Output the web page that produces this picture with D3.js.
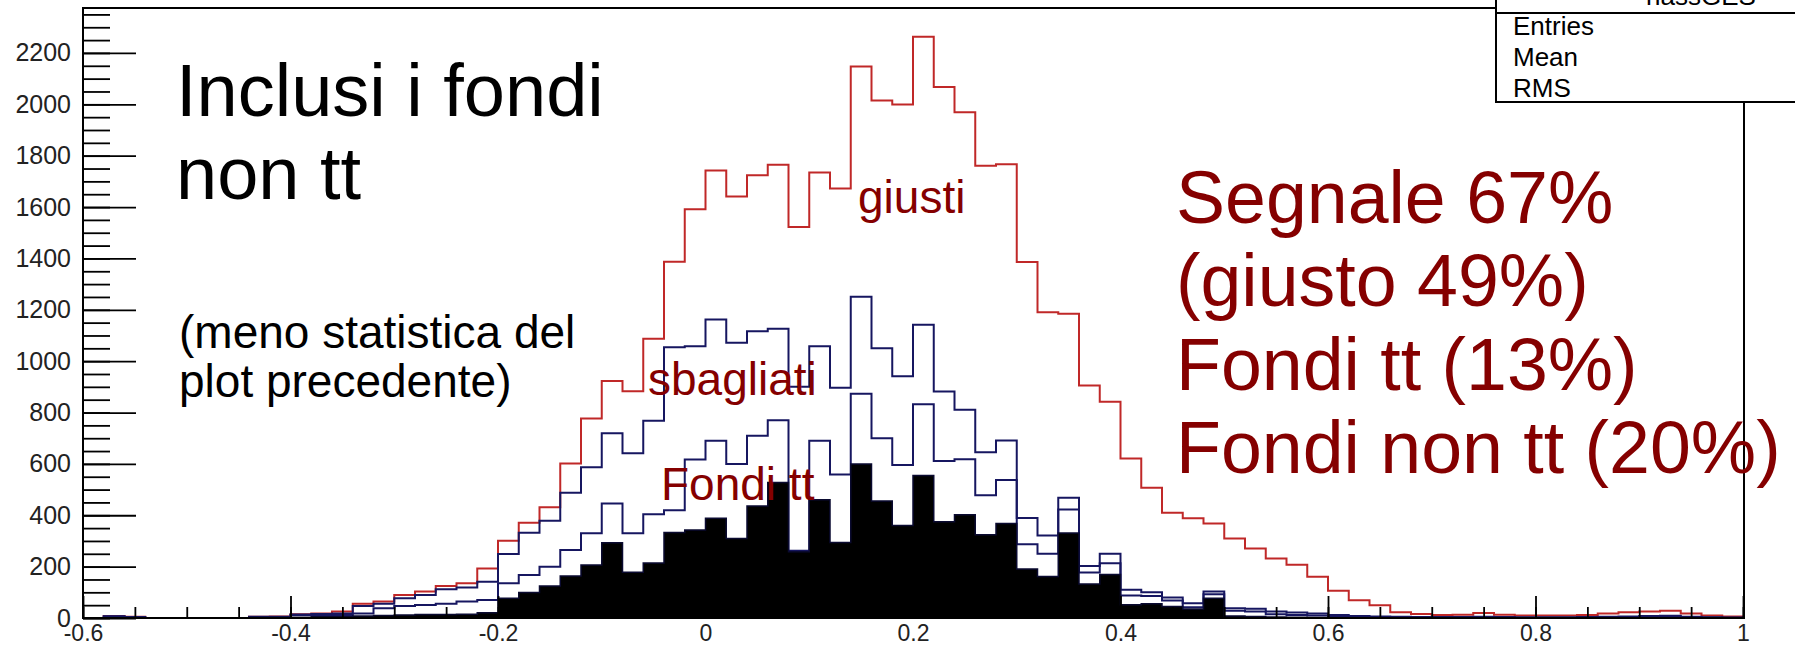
<!DOCTYPE html>
<html>
<head>
<meta charset="utf-8">
<script src="https://cdn.jsdelivr.net/npm/d3@7"></script>
<style>
  body { margin: 0; background: #fff; overflow: hidden; }
  text { font-family: "Liberation Sans", Arial, sans-serif; }
</style>
</head>
<body>
<svg id="chart" width="1795" height="652"></svg>
<script>
// histogram: 80 bins of width 0.02 from -0.6 to 1 (stacked contributions)
const binEdges = d3.range(81).map(i => -0.6 + i * 0.02);

const nonTT = [
  0,0,0,0,0,0,0,0,2,2,
  3,5,5,8,10,12,14,14,15,20,
  77,99,125,164,206,293,178,214,333,343,
  388,310,436,528,258,460,294,600,456,360,
  555,375,402,324,368,191,162,331,132,169,
  52,55,45,35,77,8,6,4,3,2,
  1,0,0,0,0,0,0,0,0,0,
  0,0,0,0,0,0,0,0,0,0];

const fondiTT = [
  0,6,3,0,0,0,0,0,2,2,
  9,7,7,10,28,35,37,41,49,50,
  58,68,75,101,124,153,152,190,87,274,
  302,290,274,242,4,230,265,273,244,236,
  277,236,216,154,169,96,88,91,45,44,
  36,31,23,7,15,20,19,11,9,8,
  5,4,3,2,2,2,2,3,2,1,
  1,1,2,3,3,6,6,3,2,1];

const sbagliati = [
  0,1,1,0,0,0,0,0,1,1,
  2,4,6,29,17,30,39,57,55,71,
  114,165,179,223,257,273,311,364,634,441,
  472,472,406,356,638,368,337,378,350,345,
  310,271,193,167,154,102,71,46,25,37,
  22,14,12,15,11,10,11,10,9,8,
  6,4,3,3,2,2,2,2,2,2,
  2,2,2,2,3,2,3,2,1,1];

const giusti = [
  0,1,1,0,0,0,0,0,0,1,
  1,2,7,8,9,13,13,13,16,52,
  52,39,52,114,190,204,242,319,333,533,
  580,569,608,639,622,677,776,896,965,1058,
  1121,1185,1158,1116,1076,997,869,717,703,592,
  511,407,330,331,265,272,235,207,186,143,
  94,61,44,17,12,8,9,14,9,7,
  7,7,8,13,16,17,19,13,7,4];

const xTicks = [-0.6, -0.4, -0.2, 0, 0.2, 0.4, 0.6, 0.8, 1];
const xTickLabels = ["-0.6", "-0.4", "-0.2", "0", "0.2", "0.4", "0.6", "0.8", "1"];
const yTicks = [0, 200, 400, 600, 800, 1000, 1200, 1400, 1600, 1800, 2000, 2200];

const leftNotes = ["Inclusi i fondi", "non tt"];
const leftSmallNotes = ["(meno statistica del", "plot precedente)"];
const rightNotes = ["Segnale 67%", "(giusto 49%)", "Fondi tt (13%)", "Fondi non tt (20%)"];
const statsRows = ["Entries", "Mean", "RMS"];

const svg = d3.select("#chart");
svg.append("rect").attr("width", 1795).attr("height", 652).attr("fill", "#fff");

let x = d3.scaleLinear().domain([-0.6, 1]).range([83, 1743]);
let y = d3.scaleLinear().domain([0, 2375]).range([618, 8]);

let rows = d3.range(80).map(function(i) {
  return {lo: binEdges[i], hi: binEdges[i + 1],
    nonTT: nonTT[i], fondiTT: fondiTT[i], sbagliati: sbagliati[i], giusti: giusti[i]};
});
let layers = d3.stack().keys(["nonTT", "fondiTT", "sbagliati", "giusti"])(rows);

function stepPoints(layer) {
  let pts = [[x(-0.6), y(0)]];
  layer.forEach(function(d) {
    pts.push([x(d.data.lo), y(d[1])]);
    pts.push([x(d.data.hi), y(d[1])]);
  });
  pts.push([x(1), y(0)]);
  return pts;
}

let line = d3.line();
let area = d3.area().x(p => p[0]).y0(y(0)).y1(p => p[1]);

let histG = svg.append("g");
// drawn from the top of the stack down
histG.append("path").attr("d", line(stepPoints(layers[3])))
  .attr("fill", "none").attr("stroke", "#c02828").attr("stroke-width", 2);
histG.append("path").attr("d", line(stepPoints(layers[2])))
  .attr("fill", "none").attr("stroke", "#161660").attr("stroke-width", 2);
histG.append("path").attr("d", line(stepPoints(layers[1])))
  .attr("fill", "none").attr("stroke", "#161660").attr("stroke-width", 2);
histG.append("path").attr("d", area(stepPoints(layers[0])))
  .attr("fill", "#000").attr("stroke", "#0a0a30").attr("stroke-width", 1.5);

// axes, ROOT style: ticks pointing inside
let yMinor = d3.range(0, 2351, 50);
let xMinor = d3.range(33).map(i => -0.6 + i * 0.05);

let yAxisMinor = svg.append("g").attr("transform", "translate(83,0)")
  .call(d3.axisLeft(y).tickValues(yMinor).tickSizeInner(-27).tickSizeOuter(0).tickFormat(""));
let yAxis = svg.append("g").attr("transform", "translate(83,0)")
  .call(d3.axisLeft(y).tickValues(yTicks).tickSizeInner(-53).tickSizeOuter(0).tickPadding(12)
    .tickFormat(d => String(d)));
let xAxisMinor = svg.append("g").attr("transform", "translate(0,618)")
  .call(d3.axisBottom(x).tickValues(xMinor).tickSizeInner(-11).tickSizeOuter(0).tickFormat(""));
let xAxis = svg.append("g").attr("transform", "translate(0,618)")
  .call(d3.axisBottom(x).tickValues(xTicks).tickSizeInner(-22).tickSizeOuter(0).tickPadding(7)
    .tickFormat((d, i) => xTickLabels[i]));

[yAxisMinor, yAxis, xAxisMinor, xAxis].forEach(function(g) {
  g.select(".domain").remove();
  g.selectAll(".tick line").attr("stroke", "#000").attr("stroke-width", 1.8);
  g.selectAll(".tick text").attr("fill", "#222")
    .style("font-family", "\"Liberation Sans\", Arial, sans-serif");
});
yAxis.selectAll(".tick text").style("font-size", "25px");
xAxis.selectAll(".tick text").style("font-size", "23px");

// frame
svg.append("line").attr("x1", 83).attr("x2", 83).attr("y1", 8).attr("y2", 619)
  .attr("stroke", "#000").attr("stroke-width", 2);
svg.append("line").attr("x1", 82).attr("x2", 1745).attr("y1", 618).attr("y2", 618)
  .attr("stroke", "#000").attr("stroke-width", 2);
svg.append("line").attr("x1", 82).attr("x2", 1745).attr("y1", 8).attr("y2", 8)
  .attr("stroke", "#000").attr("stroke-width", 2);
svg.append("line").attr("x1", 1744).attr("x2", 1744).attr("y1", 8).attr("y2", 619)
  .attr("stroke", "#000").attr("stroke-width", 2);

// stats box (cut by the top edge)
svg.append("rect").attr("x", 1496).attr("y", -20).attr("width", 330).attr("height", 122)
  .attr("fill", "#fff").attr("stroke", "#000").attr("stroke-width", 2);
svg.append("line").attr("x1", 1496).attr("x2", 1800).attr("y1", 13).attr("y2", 13)
  .attr("stroke", "#000").attr("stroke-width", 2);
svg.append("text").attr("x", 1646).attr("y", 5).style("font-size", "26px").attr("fill", "#000")
  .text("hassGES");
svg.selectAll(".stat").data(statsRows).enter().append("text")
  .attr("class", "stat")
  .attr("x", 1513).attr("y", (d, i) => 35 + i * 31)
  .style("font-size", "26px").attr("fill", "#000")
  .text(d => d);

// annotations
svg.selectAll(".lnote").data(leftNotes).enter().append("text")
  .attr("class", "lnote").attr("x", 176).attr("y", (d, i) => 116 + i * 83)
  .style("font-size", "74px").attr("fill", "#000").text(d => d);
svg.selectAll(".lsnote").data(leftSmallNotes).enter().append("text")
  .attr("class", "lsnote").attr("x", 179).attr("y", (d, i) => 348 + i * 49)
  .style("font-size", "46px").attr("fill", "#000").text(d => d);
svg.selectAll(".rnote").data(rightNotes).enter().append("text")
  .attr("class", "rnote").attr("x", 1176).attr("y", (d, i) => 223 + i * 83.3)
  .style("font-size", "73.5px").attr("fill", "#850000").text(d => d);

let labels = [
  {t: "giusti", x: 858, y: 213},
  {t: "sbagliati", x: 648, y: 395},
  {t: "Fondi tt", x: 661, y: 500}
];
svg.selectAll(".hlabel").data(labels).enter().append("text")
  .attr("class", "hlabel").attr("x", d => d.x).attr("y", d => d.y)
  .style("font-size", "46px").attr("fill", "#850000").text(d => d.t);
</script>
</body>
</html>
